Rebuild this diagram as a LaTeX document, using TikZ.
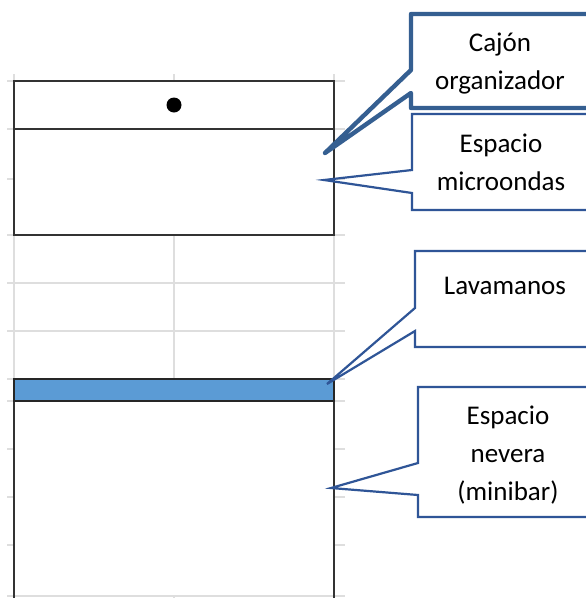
\documentclass[tikz,border=0pt]{standalone}
\usepackage{fontspec}
\setmainfont{Carlito}
\definecolor{calloutblue}{HTML}{2F5597}
\definecolor{calloutdark}{HTML}{355F91}
\definecolor{gridgrey}{HTML}{DEDEDE}
\definecolor{framegrey}{HTML}{333333}
\definecolor{sinkblue}{HTML}{5B9BD5}
\tikzset{
  gridline/.style={draw=gridgrey,line width=1.6pt},
  frame/.style={draw=framegrey,line width=2pt},
  callout/.style={draw=calloutblue,line width=2.2pt,miter limit=10},
  calloutheavy/.style={draw=calloutdark,line width=4.4pt,line join=round},
  label/.style={font=\fontsize{27}{38}\selectfont,align=center,inner sep=0pt,text=black}
}
\begin{document}
\begin{tikzpicture}[x=1pt,y=-1pt]
\useasboundingbox (0,0) rectangle (586,598);
\clip (0,0) rectangle (586,598);
\fill[white] (0,0) rectangle (586,598);
% grid
\foreach \yy in {81,129,179,235,283,331,379,401,449,497,545,596}
  \draw[gridline] (7,\yy) -- (345,\yy);
\foreach \xx in {14,174,334}
  \draw[gridline] (\xx,74) -- (\xx,598);
% upper unit
\draw[frame,fill=white] (14,81) rectangle (334,235);
\draw[frame] (14,129) -- (334,129);
\node[circle,fill=black,minimum size=15pt,inner sep=0pt] (knob) at (174,105) {};
% lower unit
\fill[white] (14,401) rectangle (334,595);
\draw[frame] (14,401) -- (14,598);
\draw[frame] (334,401) -- (334,598);
\draw[draw=black!85,line width=2pt,fill=sinkblue] (14,379) rectangle (334,401);
% callouts
\draw[calloutheavy] (592,14) -- (411,14) -- (411,70) -- (325,153) -- (411,93) -- (411,108) -- (592,108);
\draw[callout] (592,114) -- (412,114) -- (412,170) -- (324,180) -- (412,193) -- (412,210) -- (592,210);
\draw[callout] (592,251) -- (415,251) -- (415,308) -- (327,384) -- (415,331) -- (415,347) -- (592,347);
\draw[callout] (592,387) -- (418,387) -- (418,463) -- (331,488) -- (418,495) -- (418,517) -- (592,517);
% labels
\node[label] (cajon) at (500,64) {Cajón\\organizador};
\node[label] (micro) at (501,162) {Espacio\\microondas};
\node[label] (lava) at (505,286) {Lavamanos};
\node[label] (never) at (508,455) {Espacio\\nevera\\(minibar)};
\end{tikzpicture}
\end{document}
